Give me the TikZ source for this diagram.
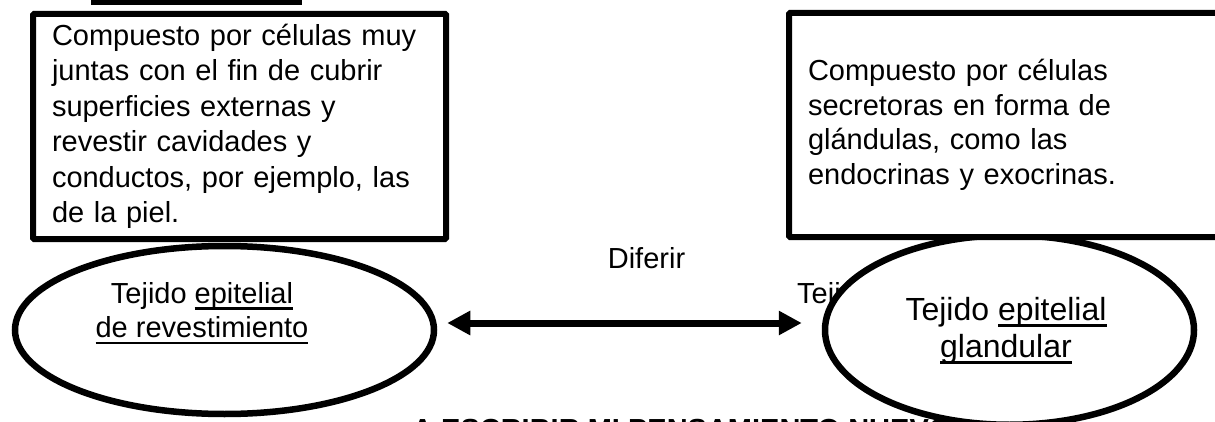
\documentclass[tikz,border=0pt]{standalone}
\usepackage{fontspec}
\setmainfont{Liberation Sans}
\usetikzlibrary{arrows.meta,shapes.geometric}
\newlength{\ulnwd}
\newcommand{\uln}[1]{\settowidth{\ulnwd}{#1}\rlap{\rule[-6.4pt]{\ulnwd}{2.4pt}}#1}

\begin{document}
\begin{tikzpicture}[x=1pt,y=-1pt,
	body/.style={font=\fontsize{29}{34.5}\selectfont},
	box/.style={body,draw,line width=6pt,fill=white,rounded corners=1pt,align=left,inner xsep=19pt},
	blob/.style={ellipse,draw,line width=6.5pt,fill=white,inner sep=0pt},
	lbl/.style={align=center,inner sep=0pt},
	dbl/.style={line width=7pt,{Triangle[length=23pt,width=23pt]}-{Triangle[length=23pt,width=23pt]}}]
	\clip (0,0) rectangle (1215,422);
	\fill (91,-3) rectangle (302,5);
	% texts lying under the ellipses
	\node[font=\fontsize{29}{34.5}\selectfont\bfseries,anchor=base west,inner sep=0pt] (pensar) at (412,439) {A ESCRIBIR MI PENSAMIENTO NUEVO};
	\node[body,anchor=base west,inner sep=0pt] (tej) at (797,303) {Tejido};
	% the two tissues
	\node[blob,minimum width=419pt,minimum height=168pt] (revest) at (224.5,330) {};
	\node[blob,minimum width=369pt,minimum height=189.5pt] (gland) at (1009.5,330) {};
	\node[lbl,body,anchor=north] (revtxt) at (202,282) {Tejido \uln{epitelial}\\ \uln{de revestimiento}};
	\node[lbl,font=\fontsize{32}{37}\selectfont,anchor=north] (glandtxt) at (1006,297) {Tejido \uln{epitelial}\\ \uln{glandular}};
	% descriptions
	\node[box,font=\fontsize{29}{35.5}\selectfont,minimum width=413pt,minimum height=225pt,text width=375pt] (cubrir) at (239.5,126.5) {Compuesto por células muy\\ juntas con el fin de cubrir\\ superficies externas y\\ revestir cavidades y\\ conductos, por ejemplo, las\\ de la piel.};
	\node[box,anchor=north west,minimum width=440pt,minimum height=224pt,text width=402pt] (secretar) at (786,10) {Compuesto por células\\ secretoras en forma de\\ glándulas, como las\\ endocrinas y exocrinas.};
	\draw[dbl,shorten <=10pt,shorten >=20pt] ([yshift=7pt]revest.east) -- ([yshift=7pt]gland.west);
	\node[body,anchor=base,inner sep=0pt] (diferir) at (646.5,268) {Diferir};
\end{tikzpicture}
\end{document}
